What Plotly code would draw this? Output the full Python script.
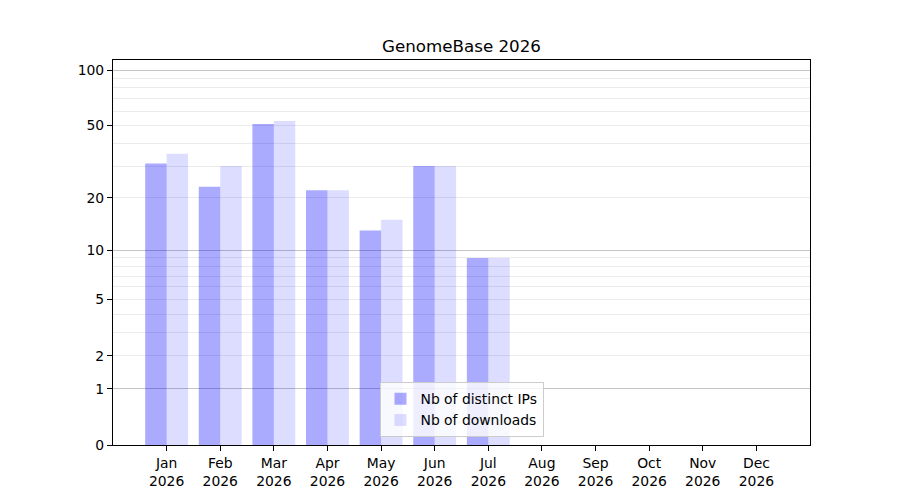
import plotly.graph_objects as go

# Monthly stats
months = ["Jan", "Feb", "Mar", "Apr", "May", "Jun", "Jul", "Aug", "Sep", "Oct", "Nov", "Dec"]
year = "2026"
distinct_ips = [31, 23, 51, 22, 13, 30, 9, None, None, None, None, None]
downloads = [35, 30, 53, 22, 15, 30, 9, None, None, None, None, None]

# y axis is log10(1 + x)
ytick_vals = [0, 1, 2, 5, 10, 20, 50, 100]
major_grid_vals = [0, 1, 10, 100]
minor_grid_vals = [3, 4, 6, 7, 8, 9, 30, 40, 60, 70, 80, 90]

x_idx = list(range(len(months)))
x_labels = [m + "<br>" + year for m in months]
yrange = [0, 2.058]

fig = go.Figure()
fig.add_trace(go.Bar(x=x_idx, y=distinct_ips, base=1, width=0.4, offset=-0.4,
                     marker=dict(color="rgba(0,0,255,0.333)", line=dict(width=0)),
                     name="Nb of distinct IPs"))
fig.add_trace(go.Bar(x=x_idx, y=downloads, base=1, width=0.4, offset=0,
                     marker=dict(color="rgba(0,0,255,0.133)", line=dict(width=0)),
                     name="Nb of downloads"))
# empty trace so the overlay axis (darker grid at 0, 1, 10, 100) is drawn
fig.add_trace(go.Scatter(x=[None], y=[None], yaxis="y2", showlegend=False,
                         hoverinfo="skip"))

# page body has an 8px margin, so shift the plot up/left to compensate
fig.update_layout(
    width=900, height=500,
    margin=dict(l=105, r=98, t=52, b=63),
    paper_bgcolor="white", plot_bgcolor="white",
    font=dict(family="DejaVu Sans", size=13.9, color="black"),
    barmode="overlay",
    title=dict(text="GenomeBase 2026", x=0.5, xref="paper", xanchor="center",
               y=1 - 38 / 500, yanchor="middle", font=dict(size=16.7)),
    showlegend=True,
    legend=dict(x=0.5, y=0.02, xanchor="center", yanchor="bottom",
                bgcolor="rgba(255,255,255,0.8)", bordercolor="#cccccc", borderwidth=1,
                font=dict(size=13.9), tracegroupgap=0),
    xaxis=dict(range=[-1, 12], tickvals=x_idx, ticktext=x_labels,
               showgrid=False, zeroline=False,
               showline=True, linecolor="black", linewidth=1.1, mirror=True,
               ticks="outside", ticklen=5, tickwidth=1.1, tickcolor="black"),
    yaxis=dict(type="log", range=yrange,
               tickvals=[v + 1 for v in ytick_vals], ticktext=[str(v) for v in ytick_vals],
               showgrid=True, gridcolor="#ebebeb", gridwidth=1,
               minor=dict(tickvals=[v + 1 for v in minor_grid_vals], showgrid=True,
                          gridcolor="#ebebeb", gridwidth=1, ticks=""),
               zeroline=False,
               showline=True, linecolor="black", linewidth=1.1, mirror=True,
               ticks="outside", ticklen=5, tickwidth=1.1, tickcolor="black"),
    yaxis2=dict(type="log", range=yrange, overlaying="y", side="left",
                tickvals=[v + 1 for v in major_grid_vals], showticklabels=False,
                ticks="", showline=False, zeroline=False,
                showgrid=True, gridcolor="#c4c4c4", gridwidth=1),
)

fig.write_html("out.html")
